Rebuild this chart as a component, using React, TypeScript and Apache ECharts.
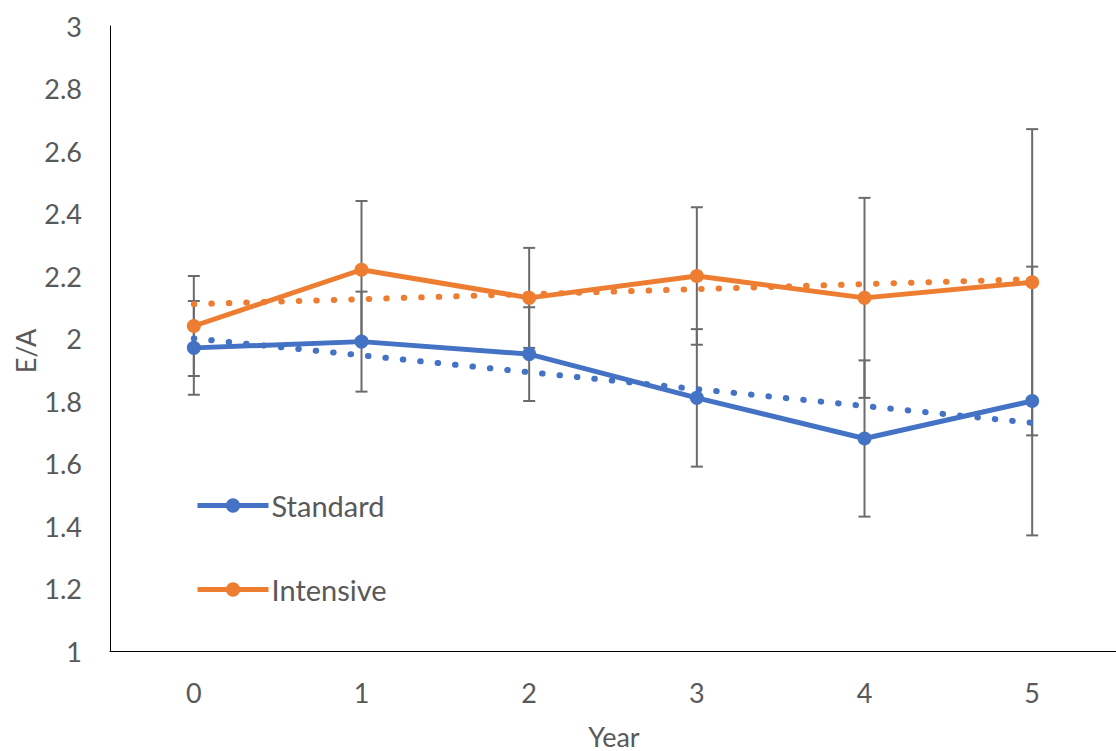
import React, { useEffect, useRef } from "react";
import * as echarts from "echarts";

const years = ["0", "1", "2", "3", "4", "5"];
const standard = [1.97, 1.99, 1.95, 1.81, 1.68, 1.8];
const intensive = [2.04, 2.22, 2.13, 2.2, 2.13, 2.18];
const standardErr = [0.15, 0.16, 0.15, 0.22, 0.25, 0.43];
const intensiveErr = [0.16, 0.22, 0.16, 0.22, 0.32, 0.49];
// linear trend endpoints at year 0 and year 5
const standardTrend = [2.0, 1.73];
const intensiveTrend = [2.11, 2.19];
const yTicks = { min: 1, max: 3, interval: 0.2 };

const BLUE = "#4472C4";
const ORANGE = "#ED7D31";
const GRAY = "#6b6b6b";
const FONT = "Lato";

export default function App() {
  const ref = useRef<HTMLDivElement>(null);
  useEffect(() => {
    document.body.style.margin = "0";
    const chart = echarts.init(ref.current!, null, { renderer: "svg" });
    const errData = (vals: number[], errs: number[]) =>
      vals.map((v, i) => [i, v - errs[i], v + errs[i]]);
    const errSeries = (name: string, vals: number[], errs: number[]) => ({
      type: "custom",
      name,
      z: 1,
      silent: true,
      data: errData(vals, errs),
      renderItem: (params: any, api: any) => {
        const x = api.value(0);
        const lo = api.coord([x, api.value(1)]);
        const hi = api.coord([x, api.value(2)]);
        const hw = 6;
        const st = { stroke: GRAY, lineWidth: 2 };
        return {
          type: "group",
          children: [
            { type: "line", shape: { x1: lo[0], y1: lo[1], x2: hi[0], y2: hi[1] }, style: st },
            { type: "line", shape: { x1: lo[0] - hw, y1: lo[1], x2: lo[0] + hw, y2: lo[1] }, style: st },
            { type: "line", shape: { x1: hi[0] - hw, y1: hi[1], x2: hi[0] + hw, y2: hi[1] }, style: st },
          ],
        };
      },
    });
    const trendSeries = (name: string, ends: number[], color: string) => ({
      type: "line",
      name,
      z: 3,
      silent: true,
      symbol: "none",
      data: [
        [0, ends[0]],
        [years.length - 1, ends[1]],
      ],
      lineStyle: { color, width: 6, type: [0.5, 17], cap: "round" },
    });
    chart.setOption({
      animation: false,
      grid: { left: 110, right: -1, top: 26, bottom: 100 },
      xAxis: {
        type: "category",
        data: years,
        boundaryGap: true,
        axisTick: { show: false },
        axisLine: { lineStyle: { color: "#000", width: 1 } },
        axisLabel: { color: "#595959", fontSize: 27, fontFamily: FONT, margin: 28 },
      },
      yAxis: {
        type: "value",
        min: yTicks.min,
        max: yTicks.max,
        interval: yTicks.interval,
        splitLine: { show: false },
        axisTick: { show: false },
        axisLine: { show: true, lineStyle: { color: "#000", width: 1 } },
        axisLabel: { color: "#595959", fontSize: 27, fontFamily: FONT, margin: 28 },
      },
      legend: {
        data: ["Standard", "Intensive"],
        orient: "vertical",
        left: 190,
        top: 486,
        itemWidth: 71,
        itemHeight: 18,
        itemGap: 55,
        lineStyle: { width: 5 },
        textStyle: { color: "#595959", fontSize: 29, fontFamily: FONT, lineHeight: 28, padding: [0, 0, 0, -2] },
      },
      graphic: [
        {
          type: "text",
          x: 25,
          y: 351,
          rotation: Math.PI / 2,
          style: { text: "E/A", fill: "#595959", fontSize: 27, fontFamily: FONT, align: "center", verticalAlign: "middle" },
        },
        {
          type: "text",
          x: 614,
          y: 736,
          style: { text: "Year", fill: "#595959", fontSize: 27, fontFamily: FONT, align: "center", verticalAlign: "middle" },
        },
      ],
      series: [
        errSeries("StandardErr", standard, standardErr),
        errSeries("IntensiveErr", intensive, intensiveErr),
        {
          type: "line",
          name: "Standard",
          z: 2,
          data: standard,
          symbol: "circle",
          symbolSize: 14,
          itemStyle: { color: BLUE },
          lineStyle: { color: BLUE, width: 5 },
        },
        {
          type: "line",
          name: "Intensive",
          z: 2,
          data: intensive,
          symbol: "circle",
          symbolSize: 14,
          itemStyle: { color: ORANGE },
          lineStyle: { color: ORANGE, width: 5 },
        },
        trendSeries("StandardTrend", standardTrend, BLUE),
        trendSeries("IntensiveTrend", intensiveTrend, ORANGE),
      ],
    });
    return () => chart.dispose();
  }, []);
  return <div ref={ref} style={{ width: 1116, height: 751 }} />;
}
